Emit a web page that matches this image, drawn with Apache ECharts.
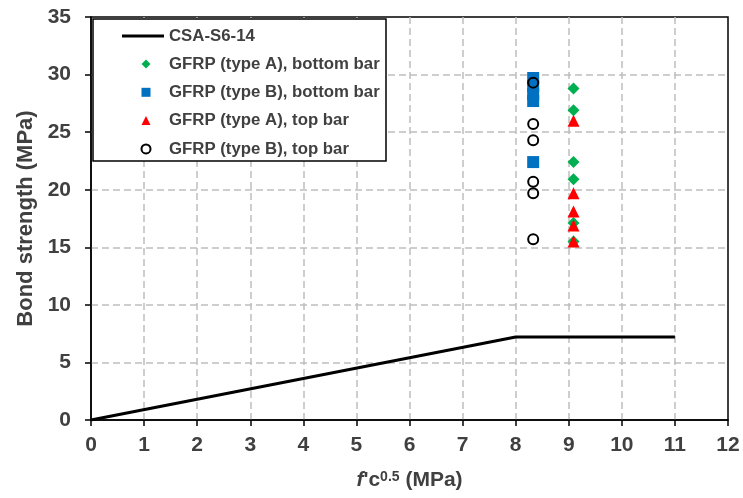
<!DOCTYPE html>
<html>
<head>
<meta charset="UTF-8">
<title>Bond strength</title>
<script src="https://cdn.jsdelivr.net/npm/echarts@6/dist/echarts.min.js"></script>
<style>
  html, body { margin: 0; padding: 0; background: #fff; }
  #main { width: 743px; height: 498px; }
</style>
</head>
<body>
<div id="main"></div>
<script>
// CSA-S6-14 design line
var csaX = [0, 8, 11];
var csaY = [0, 7.2, 7.2];
// test points: x = f'c^0.5 of each concrete batch
var xTypeA = 9.09;
var xTypeB = 8.33;
var typeABottom = [28.8, 26.9, 22.4, 20.9, 17.1, 15.5];
var typeBBottom = [29.7, 29.0, 28.3, 27.7, 22.4];
var typeATop = [26.0, 19.7, 18.1, 16.9, 15.5];
var typeBTop = [29.3, 25.7, 24.3, 20.7, 19.7, 15.7];
var xTicks = [0, 12, 1];
var yTicks = [0, 35, 5];
var markerNames = ['GFRP (type A), bottom bar', 'GFRP (type B), bottom bar',
                   'GFRP (type A), top bar', 'GFRP (type B), top bar'];

var FONT = '"Liberation Sans", Arial, sans-serif';
var TXT = '#404040';

function pts(x, ys) {
  var out = [];
  for (var i = 0; i < ys.length; i++) out.push([x, ys[i]]);
  return out;
}
var csaData = [];
for (var i = 0; i < csaX.length; i++) csaData.push([csaX[i], csaY[i]]);

var myChart = echarts.init(document.getElementById('main'));
var gridLine = {
  show: true,
  showMinLine: false,
  showMaxLine: false,
  lineStyle: { color: '#bfbfbf', width: 1.5, type: [7, 4] }
};
var legendText = { fontFamily: FONT, fontWeight: 'bold', fontSize: 16.8, color: TXT, lineHeight: 18 };
var option = {
  animation: false,
  textStyle: { fontFamily: FONT },
  grid: {
    left: 91, right: 15, top: 17, bottom: 78,
    show: true, borderColor: '#000', borderWidth: 1.5
  },
  // legend frame
  graphic: [{
    type: 'rect', z: 3,
    shape: { x: 93, y: 19, width: 293, height: 142 },
    style: { fill: '#fff', stroke: '#000', lineWidth: 1.5 }
  }],
  legend: [{
    orient: 'vertical',
    left: 122, top: 27, padding: 0,
    itemWidth: 42, itemHeight: 3,
    textStyle: legendText,
    data: [{ name: 'CSA-S6-14', icon: 'rect' }]
  }, {
    orient: 'vertical',
    left: 140.5, top: 55, padding: 0,
    itemWidth: 9, itemHeight: 9, itemGap: 10.3,
    textStyle: Object.assign({ padding: [0, 0, 0, 13.5] }, legendText),
    data: markerNames
  }],
  xAxis: {
    type: 'value', min: xTicks[0], max: xTicks[1], interval: xTicks[2],
    name: '{i|f}{n|\'c}{s|0.5}{n| (MPa)}',
    nameLocation: 'middle', nameGap: 50,
    nameTextStyle: {
      rich: {
        i: { fontFamily: FONT, fontStyle: 'italic', fontWeight: 'bold', fontSize: 21, color: TXT },
        n: { fontFamily: FONT, fontWeight: 'bold', fontSize: 21, color: TXT },
        s: { fontFamily: FONT, fontWeight: 'bold', fontSize: 14, color: TXT, verticalAlign: 'top' }
      }
    },
    axisLine: { lineStyle: { color: '#000', width: 1.5 } },
    axisTick: { show: true, inside: false, length: 6, lineStyle: { color: '#000', width: 1.5 } },
    axisLabel: { margin: 15, fontFamily: FONT, fontWeight: 'bold', fontSize: 21, color: TXT },
    splitLine: gridLine
  },
  yAxis: {
    type: 'value', min: yTicks[0], max: yTicks[1], interval: yTicks[2],
    name: 'Bond strength (MPa)',
    nameLocation: 'middle', nameGap: 49, nameRotate: 90,
    nameTextStyle: { fontFamily: FONT, fontWeight: 'bold', fontSize: 22, color: TXT },
    axisLine: { show: true, lineStyle: { color: '#000', width: 1.5 } },
    axisTick: { show: true, inside: false, length: 6, lineStyle: { color: '#000', width: 1.5 } },
    axisLabel: { margin: 20, fontFamily: FONT, fontWeight: 'bold', fontSize: 21, color: TXT },
    splitLine: gridLine
  },
  series: [{
    name: 'CSA-S6-14',
    type: 'line',
    symbol: 'none',
    lineStyle: { color: '#000', width: 3 },
    itemStyle: { color: '#000' },
    data: csaData
  }, {
    name: markerNames[0],
    type: 'scatter',
    symbol: 'diamond', symbolSize: 12,
    itemStyle: { color: '#00b050', opacity: 1 },
    data: pts(xTypeA, typeABottom)
  }, {
    name: markerNames[1],
    type: 'scatter',
    symbol: 'rect', symbolSize: 12,
    itemStyle: { color: '#0070c0', opacity: 1 },
    data: pts(xTypeB, typeBBottom)
  }, {
    name: markerNames[2],
    type: 'scatter',
    symbol: 'triangle', symbolSize: 12,
    itemStyle: { color: '#ff0000', opacity: 1 },
    data: pts(xTypeA, typeATop)
  }, {
    name: markerNames[3],
    type: 'scatter',
    symbol: 'circle', symbolSize: 10,
    itemStyle: { color: 'rgba(255,255,255,0)', borderColor: '#000', borderWidth: 2, opacity: 1 },
    data: pts(xTypeB, typeBTop)
  }]
};
myChart.setOption(option);
</script>
</body>
</html>
